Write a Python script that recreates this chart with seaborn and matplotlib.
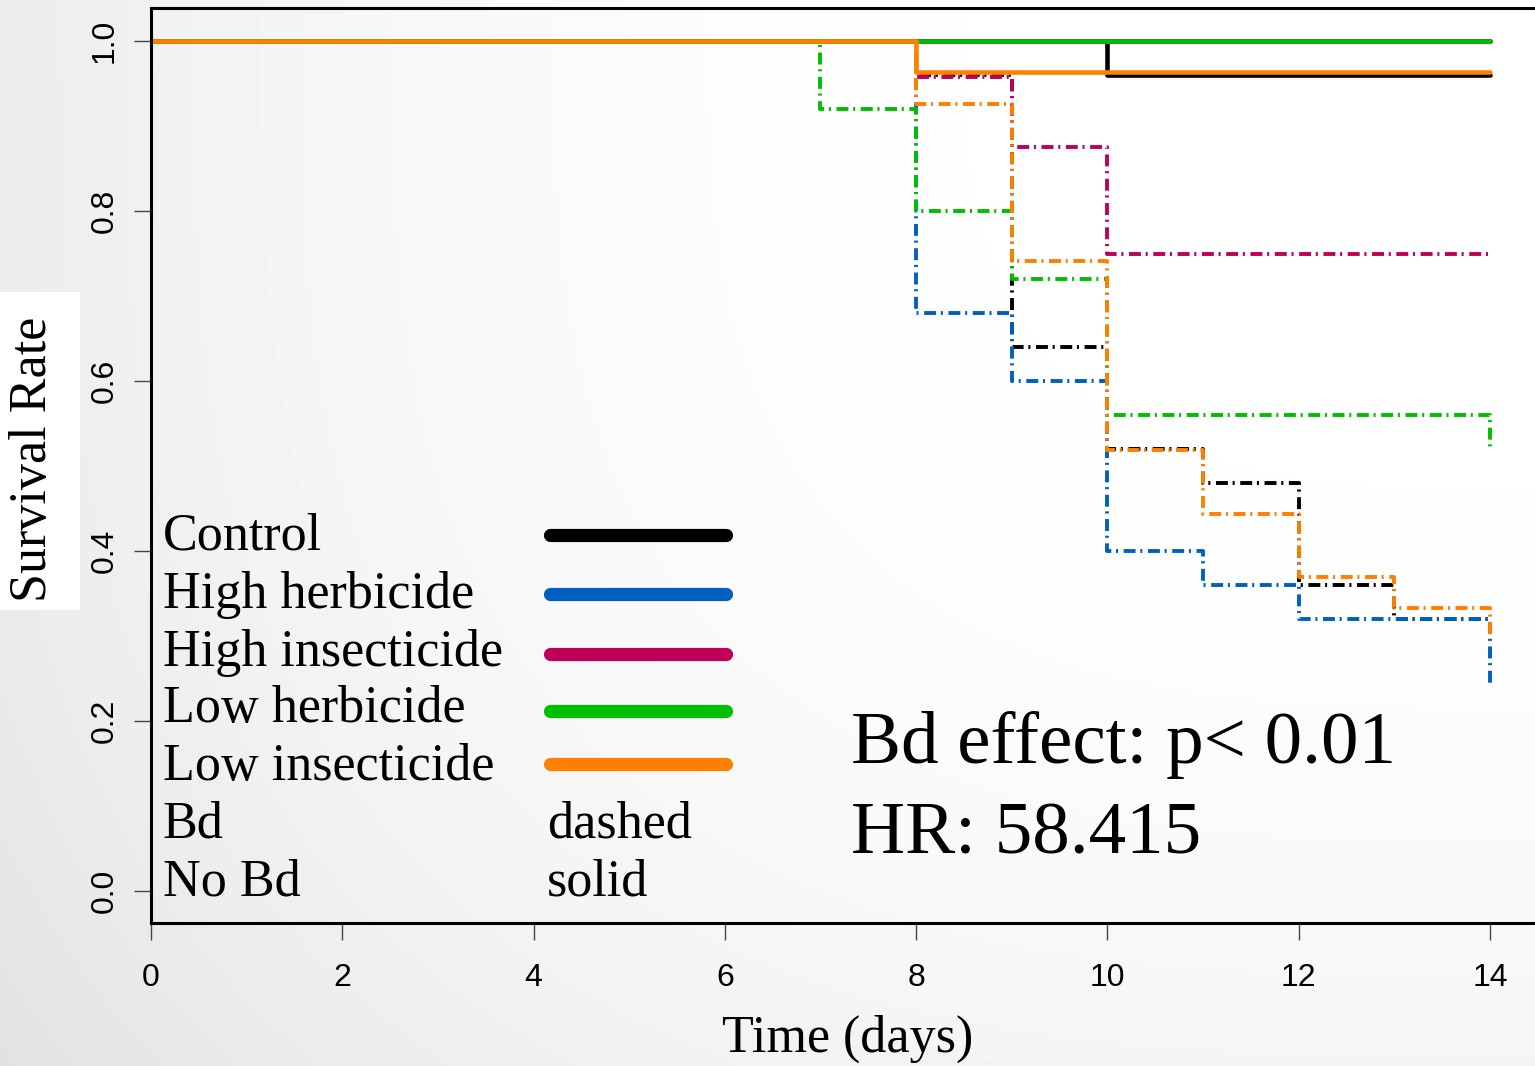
import numpy as np
import pandas as pd
import matplotlib
matplotlib.use("Agg")
import matplotlib.pyplot as plt
from matplotlib.lines import Line2D
from matplotlib.patches import Rectangle
import seaborn as sns

# ---------------- data ----------------
treatments = ["Control", "High herbicide", "High insecticide", "Low herbicide", "Low insecticide"]
colors = ["#000000", "#0060BF", "#BE0059", "#00BF00", "#FF8000"]

# Bd exposed (dash-dot)
bd_control_t = [0, 8, 9, 10, 11, 12, 13, 14]
bd_control_s = [1.0, 0.96, 0.64, 0.52, 0.48, 0.36, 0.32, 0.32]
bd_hiherb_t = [0, 8, 9, 10, 11, 12, 14]
bd_hiherb_s = [1.0, 0.68, 0.60, 0.40, 0.36, 0.32, 0.24]
bd_hiins_t = [0, 8, 9, 10, 14]
bd_hiins_s = [1.0, 0.958, 0.875, 0.75, 0.75]
bd_loherb_t = [0, 7, 8, 9, 10, 14]
bd_loherb_s = [1.0, 0.92, 0.80, 0.72, 0.56, 0.52]
bd_loins_t = [0, 8, 9, 10, 11, 12, 13, 14]
bd_loins_s = [1.0, 0.926, 0.741, 0.519, 0.444, 0.370, 0.333, 0.296]

# No Bd (solid)
nobd_control_t = [0, 10, 14]
nobd_control_s = [1.0, 0.96, 0.96]
nobd_hiherb_t = [0, 14]
nobd_hiherb_s = [1.0, 1.0]
nobd_hiins_t = [0, 14]
nobd_hiins_s = [1.0, 1.0]
nobd_loherb_t = [0, 14]
nobd_loherb_s = [1.0, 1.0]
nobd_loins_t = [0, 8, 14]
nobd_loins_s = [1.0, 0.963, 0.963]

xticks = [0, 2, 4, 6, 8, 10, 12, 14]
yticks = [0.0, 0.2, 0.4, 0.6, 0.8, 1.0]
legend_extra = [("Bd", "dashed"), ("No Bd", "solid")]
annot_lines = ["Bd effect: p< 0.01", "HR: 58.415"]

bd_series = [(bd_control_t, bd_control_s), (bd_hiherb_t, bd_hiherb_s), (bd_hiins_t, bd_hiins_s),
             (bd_loherb_t, bd_loherb_s), (bd_loins_t, bd_loins_s)]
nobd_series = [(nobd_control_t, nobd_control_s), (nobd_hiherb_t, nobd_hiherb_s), (nobd_hiins_t, nobd_hiins_s),
               (nobd_loherb_t, nobd_loherb_s), (nobd_loins_t, nobd_loins_s)]

def to_df(series):
    rows = []
    for name, (t, s) in zip(treatments, series):
        for ti, si in zip(t, s):
            rows.append({"time": ti, "surv": si, "treatment": name})
    return pd.DataFrame(rows)

df_bd = to_df(bd_series)
df_nobd = to_df(nobd_series)

# ---------------- figure ----------------
sns.set_style("white")
plt.rcParams["lines.scale_dashes"] = False
plt.rcParams["font.family"] = ["DejaVu Sans"]
plt.rcParams["text.color"] = "black"

W, H = 1535, 1066
fig = plt.figure(figsize=(W / 100, H / 100), dpi=100)

# background gradient
bg = fig.add_axes([0, 0, 1, 1], zorder=-10)
xx, yy = np.meshgrid(np.linspace(0, 1, 300), np.linspace(0, 1, 210))
v = 1 - 0.075 * (1 - xx) ** 3 - 0.04 * yy ** 3
bg.imshow(v, cmap="gray", vmin=0, vmax=1, aspect="auto", extent=[0, 1, 1, 0], interpolation="bilinear")
bg.set_axis_off()

ax = fig.add_axes([151 / W, 1 - 923 / H, 1384 / W, 915 / H])
ax.set_facecolor("none")
pal = dict(zip(treatments, colors))

sns.lineplot(data=df_bd, x="time", y="surv", hue="treatment", hue_order=treatments, palette=pal,
             estimator=None, errorbar=None, legend=False, ax=ax, drawstyle="steps-post",
             linewidth=2.8, linestyle=(0, (8.6, 3.4, 1.5, 4.0)))
sns.lineplot(data=df_nobd, x="time", y="surv", hue="treatment", hue_order=treatments, palette=pal,
             estimator=None, errorbar=None, legend=False, ax=ax, drawstyle="steps-post",
             linewidth=3.3, solid_capstyle="round")

ax.set_xlim(0, 1384 / 95.64)
ax.set_ylim(-(923 - 891) / 850, 1 + (41 - 8) / 850)
ax.set_xticks(xticks)
ax.set_yticks(yticks)
ax.set_xticklabels([str(t) for t in xticks])
ax.set_yticklabels([f"{t:.1f}" for t in yticks])
ax.set_xlabel("")
ax.set_ylabel("")
for sp in ["left", "bottom", "top"]:
    ax.spines[sp].set_linewidth(2.2)
    ax.spines[sp].set_color("black")
ax.spines["right"].set_visible(False)
ax.tick_params(axis="both", which="major", direction="out", length=12.5, width=1.0,
               color="#444444", labelsize=23, labelcolor="black", bottom=True, left=True)
ax.tick_params(axis="x", pad=16)
ax.tick_params(axis="y", pad=10, labelrotation=90)
for lbl in ax.get_yticklabels():
    lbl.set_va("center")
for lbl in ax.get_xticklabels() + ax.get_yticklabels():
    lbl.set_fontfamily("Liberation Sans")

serif = "Liberation Serif"

def fx(px):
    return px / W

def fy(py):
    return 1 - py / H

# legend
baselines = [550, 608, 666, 722, 780, 838, 896]
line_y = [535, 594, 654, 711, 764]
for i, name in enumerate(treatments):
    fig.text(fx(163), fy(baselines[i]), name, fontsize=37.5, family=serif, va="baseline", ha="left",
             color="black")
    fig.add_artist(Line2D([fx(550), fx(726)], [fy(line_y[i])] * 2, transform=fig.transFigure,
                          color=colors[i], linewidth=9.5, solid_capstyle="round"))
for j, (a, b) in enumerate(legend_extra):
    fig.text(fx(163), fy(baselines[5 + j]), a, fontsize=37.5, family=serif, va="baseline", ha="left",
             color="black")
    fig.text(fx(547), fy(baselines[5 + j]), b, fontsize=37.5, family=serif, va="baseline", ha="left",
             color="black")

# annotation
fig.text(fx(851), fy(763), annot_lines[0], fontsize=54, family=serif, va="baseline", ha="left", color="black")
fig.text(fx(851), fy(853), annot_lines[1], fontsize=54, family=serif, va="baseline", ha="left", color="black")

# axis labels
fig.text(fx(848), fy(1052), "Time (days)", fontsize=37.5, family=serif, va="baseline", ha="center",
         color="black")
fig.add_artist(Rectangle((0, fy(610)), fx(80), 318 / H, transform=fig.transFigure,
                         facecolor="white", edgecolor="none", zorder=0))
fig.text(fx(33), fy(459), "Survival Rate", fontsize=37.5, family=serif, rotation=90,
         va="center", ha="center", zorder=1, color="black")

fig.savefig("out.png", dpi=100)
